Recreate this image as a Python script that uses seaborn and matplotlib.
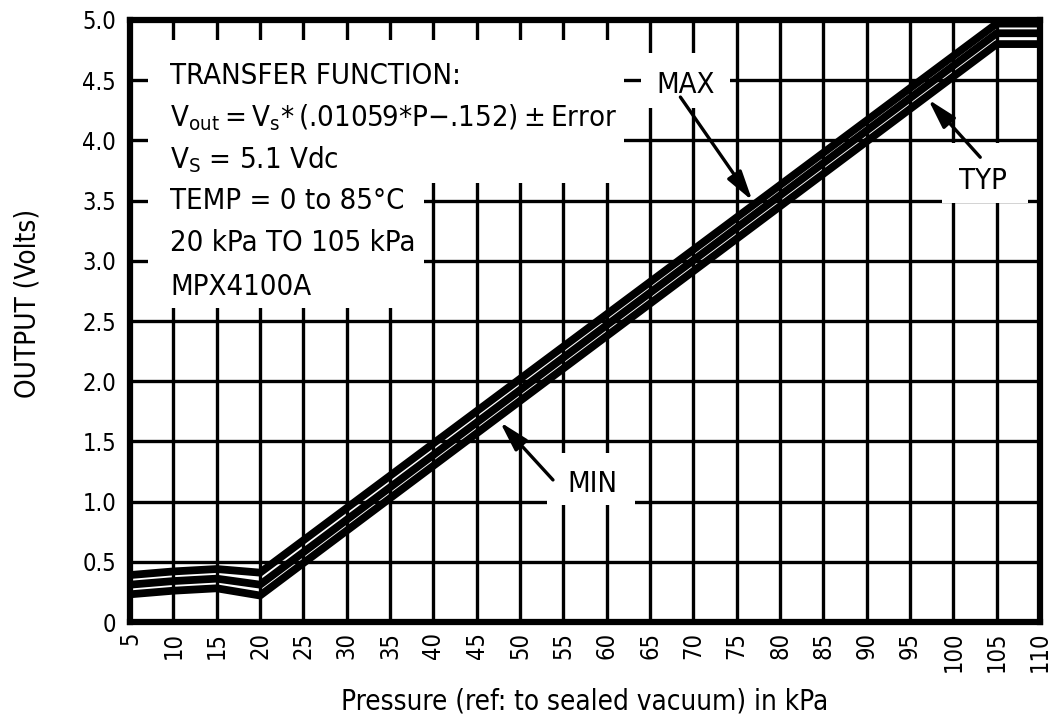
import matplotlib
matplotlib.use("Agg")
import matplotlib.pyplot as plt
from matplotlib import font_manager
from matplotlib.patches import Rectangle
import pandas as pd
import seaborn as sns

# Output voltage vs. applied pressure (kPa, V)
pressure = [5, 10, 15, 20, 105, 110]
v_max = [0.39, 0.42, 0.44, 0.41, 4.97, 4.97]
v_typ = [0.31, 0.34, 0.36, 0.31, 4.89, 4.89]
v_min = [0.23, 0.26, 0.28, 0.22, 4.80, 4.80]

x_ticks = [5, 10, 15, 20, 25, 30, 35, 40, 45, 50, 55, 60, 65, 70, 75, 80,
           85, 90, 95, 100, 105, 110]
x_tick_labels = [str(v) for v in x_ticks]
y_ticks = [0, 0.5, 1.0, 1.5, 2.0, 2.5, 3.0, 3.5, 4.0, 4.5, 5.0]
y_tick_labels = ["0", "0.5", "1.0", "1.5", "2.0", "2.5", "3.0", "3.5",
                 "4.0", "4.5", "5.0"]

thin = "\u2009"
info_lines = [
    "TRANSFER FUNCTION:",
    "V$_{out}$" + thin + "=" + thin + "V$_{s}$*" + thin + "(.01059*P\u2212.152)"
    + thin + "\u00b1" + thin + "Error",
    "V$_{S}$ = 5.1 Vdc",
    "TEMP = 0 to 85\u00b0C",
    "20 kPa TO 105 kPa",
    "MPX4100A",
]

sns.set_style("white")
installed = {f.name for f in font_manager.fontManager.ttflist}
if "Liberation Sans Narrow" in installed:
    base = "Liberation Sans Narrow"
else:
    base = "DejaVu Sans"
    plt.rcParams["font.stretch"] = "condensed"
plt.rcParams["font.family"] = [base, "DejaVu Sans"]
plt.rcParams["mathtext.fontset"] = "custom"
plt.rcParams["mathtext.rm"] = base
plt.rcParams["mathtext.it"] = base
plt.rcParams["mathtext.default"] = "regular"
for key in ["text.color", "axes.labelcolor", "xtick.color", "ytick.color"]:
    plt.rcParams[key] = "black"

df = pd.DataFrame({
    "pressure": pressure * 3,
    "output": v_max + v_typ + v_min,
    "curve": ["MAX"] * len(pressure) + ["TYP"] * len(pressure) + ["MIN"] * len(pressure),
})

fig = plt.figure(figsize=(10.59, 7.22), dpi=100)
ax = fig.add_axes([0.1228, 0.1385, 0.8593, 0.8338])

sns.lineplot(data=df, x="pressure", y="output", units="curve", estimator=None,
             color="black", lw=5.6, ax=ax, zorder=3, solid_capstyle="butt")

ax.set_xlim(5, 110)
ax.set_ylim(0, 5.0)
ax.set_xticks(x_ticks)
ax.set_xticklabels(x_tick_labels, rotation=90, fontsize=17)
ax.set_yticks(y_ticks)
ax.set_yticklabels(y_tick_labels, fontsize=17)
ax.tick_params(axis="y", length=0, pad=10)
ax.tick_params(axis="x", length=0, pad=7)

ax.set_axisbelow(True)
ax.grid(True, color="black", lw=2.4)
for s in ax.spines.values():
    s.set_color("black")
    s.set_linewidth(4.5)

ax.set_xlabel("Pressure (ref: to sealed vacuum) in kPa", fontsize=20)
ax.set_ylabel("OUTPUT (Volts)", fontsize=20)
ax.xaxis.set_label_coords(0.5, -0.108)
ax.yaxis.set_label_coords(-0.097, 0.53)

# white panels behind the annotation text
panels = [
    (7.1, 3.65, 62.0, 4.83),
    (7.1, 2.61, 38.9, 4.83),
    (63.9, 4.27, 74.2, 4.73),
    (53.1, 0.97, 63.3, 1.40),
    (98.7, 3.48, 108.6, 3.98),
]
for x0, y0, x1, y1 in panels:
    ax.add_patch(Rectangle((x0, y0), x1 - x0, y1 - y0, facecolor="white",
                           edgecolor="none", zorder=1.5))

baselines = [4.47, 4.12, 3.77, 3.43, 3.08, 2.72]
for txt, yb in zip(info_lines, baselines):
    ax.text(9.6, yb, txt, fontsize=21, ha="left", va="baseline", zorder=4)

labels = [
    ("MAX", (69.15, 4.39), (68.5, 4.36), (76.8, 3.50)),
    ("MIN", (58.3, 1.08), (53.8, 1.18), (47.7, 1.66)),
    ("TYP", (103.4, 3.60), (103.1, 3.86), (97.1, 4.34)),
]
for name, pos, tail, tip in labels:
    ax.text(pos[0], pos[1], name, fontsize=21, ha="center", va="baseline", zorder=4)
    ax.annotate("", xy=tip, xytext=tail, zorder=5,
                arrowprops=dict(arrowstyle="-|>,head_length=0.9,head_width=0.25",
                                color="black", lw=2.4, shrinkA=0, shrinkB=0,
                                mutation_scale=20))

fig.savefig("out.png", dpi=100, facecolor="white")
